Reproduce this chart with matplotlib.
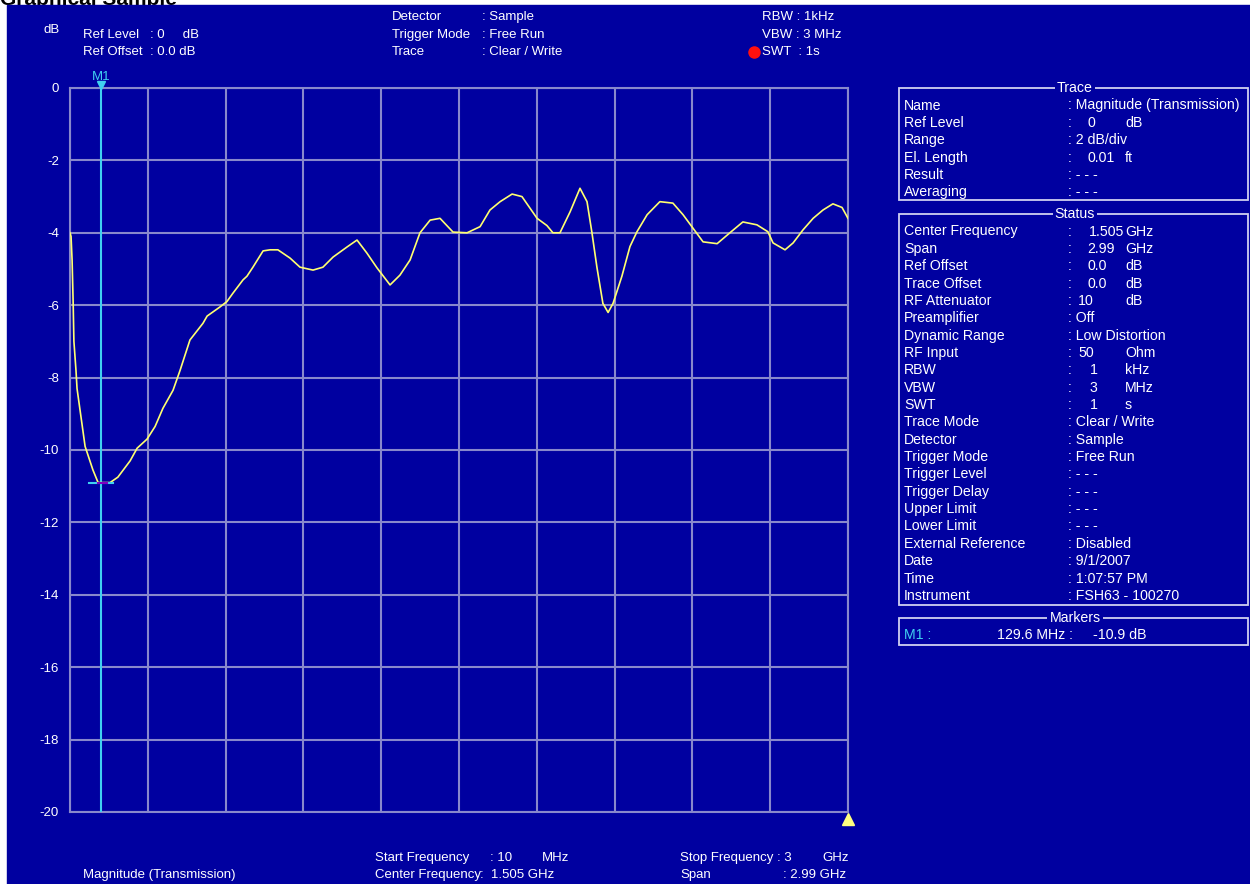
import matplotlib
matplotlib.use("Agg")
import matplotlib.pyplot as plt
from matplotlib.patches import Rectangle

# trace: frequency (MHz) and magnitude (dB)
freq_mhz = [10, 14, 18, 22, 25, 33, 37, 68, 98, 118, 141, 164, 194, 241, 268,
            306, 337, 367, 406, 433, 471, 521, 537, 586, 613, 636, 675, 690,
            713, 752, 779, 809, 856, 894, 944, 982, 1021, 1075, 1113, 1151,
            1190, 1240, 1278, 1317, 1355, 1394, 1432, 1482, 1536, 1586, 1624,
            1663, 1709, 1747, 1805, 1843, 1866, 1893, 1932, 1970, 1997, 2016,
            2035, 2058, 2078, 2097, 2131, 2162, 2189, 2228, 2277, 2327, 2366,
            2404, 2443, 2497, 2546, 2596, 2650, 2692, 2712, 2758, 2789, 2827,
            2866, 2904, 2942, 2977, 3000]
mag_db = [-4.0, -4.1, -4.75, -5.9, -7.0, -7.8, -8.3, -9.9, -10.55, -10.9,
          -10.9, -10.9, -10.75, -10.3, -9.95, -9.7, -9.35, -8.85, -8.35, -7.8,
          -6.96, -6.5, -6.3, -6.05, -5.9, -5.67, -5.3, -5.2, -4.95, -4.5,
          -4.47, -4.47, -4.7, -4.95, -5.03, -4.95, -4.67, -4.39, -4.2, -4.56,
          -4.97, -5.44, -5.17, -4.75, -4.0, -3.65, -3.6, -3.98, -4.0, -3.83,
          -3.37, -3.14, -2.93, -3.0, -3.6, -3.8, -4.0, -4.0, -3.42, -2.77,
          -3.14, -4.0, -4.95, -5.95, -6.2, -5.95, -5.2, -4.38, -3.97, -3.5,
          -3.14, -3.18, -3.5, -3.87, -4.25, -4.3, -4.0, -3.7, -3.78, -3.97,
          -4.28, -4.47, -4.28, -3.92, -3.6, -3.37, -3.2, -3.3, -3.6]

start_mhz, stop_mhz = 10, 3000
marker_mhz, marker_db = 129.6, -10.9
y_ticks = [0, -2, -4, -6, -8, -10, -12, -14, -16, -18, -20]

trace_rows = [("Name", ": Magnitude (Transmission)", "", None),
              ("Ref Level", ":", "0", "dB"),
              ("Range", ": 2 dB/div", "", None),
              ("El. Length", ":", "0.01", "ft"),
              ("Result", ": - - -", "", None),
              ("Averaging", ": - - -", "", None)]
status_rows = [("Center Frequency", ":", "1.505", "GHz"),
               ("Span", ":", "2.99", "GHz"),
               ("Ref Offset", ":", "0.0", "dB"),
               ("Trace Offset", ":", "0.0", "dB"),
               ("RF Attenuator", ":", "10", "dB"),
               ("Preamplifier", ": Off", "", None),
               ("Dynamic Range", ": Low Distortion", "", None),
               ("RF Input", ":", "50", "Ohm"),
               ("RBW", ":", "1", "kHz"),
               ("VBW", ":", "3", "MHz"),
               ("SWT", ":", "1", "s"),
               ("Trace Mode", ": Clear / Write", "", None),
               ("Detector", ": Sample", "", None),
               ("Trigger Mode", ": Free Run", "", None),
               ("Trigger Level", ": - - -", "", None),
               ("Trigger Delay", ": - - -", "", None),
               ("Upper Limit", ": - - -", "", None),
               ("Lower Limit", ": - - -", "", None),
               ("External Reference", ": Disabled", "", None),
               ("Date", ": 9/1/2007", "", None),
               ("Time", ": 1:07:57 PM", "", None),
               ("Instrument", ": FSH63 - 100270", "", None)]

# left edge (px) of the number column, as the instrument lays it out
num_x = {"0": 1088, "0.01": 1087, "1.505": 1089, "2.99": 1087, "0.0": 1087,
         "10": 1078, "50": 1078, "1": 1090, "3": 1090}

BLUE = "#0000a0"
GRID = "#8888cc"
WHITE = "white"
CYAN = "#40d0f0"
YELLOW = "#ffff70"
FS = 9.5
FS_PANEL = 10.2
plt.rcParams["font.family"] = ["Liberation Sans", "DejaVu Sans"]

fig = plt.figure(figsize=(12.5, 8.84), dpi=100, facecolor="white")

# full-figure overlay in pixel coordinates for the screen furniture
bg = fig.add_axes([0, 0, 1, 1])
bg.set_xlim(0, 1250)
bg.set_ylim(884, 0)
bg.axis("off")
bg.add_patch(Rectangle((7, 5), 1250, 884, color=BLUE, zorder=0))
# heading of the page above, mostly cut off by the screenshot
bg.text(0, 5, "Graphical Sample", fontsize=15, fontweight="bold",
        color="black", va="baseline", ha="left", zorder=-1, clip_on=False)


def t(x, y, s, color=WHITE, ha="left", size=FS, **kw):
    bg.text(x, y, s, color=color, fontsize=size, ha=ha, va="center", **kw)


# header
t(43, 30, "dB")
t(83, 35, "Ref Level")
t(150, 35, ": 0     dB")
t(83, 52, "Ref Offset")
t(150, 52, ": 0.0 dB")
for y, lab, val in [(17, "Detector", ": Sample"), (35, "Trigger Mode", ": Free Run"),
                    (52, "Trace", ": Clear / Write")]:
    t(392, y, lab)
    t(482, y, val)
t(762, 17, "RBW : 1kHz")
t(762, 35, "VBW : 3 MHz")
t(762, 52, "SWT  : 1s")
bg.plot([754], [52], "o", color="#ff1010", markersize=8)

# footer
t(83, 875, "Magnitude (Transmission)")
t(375, 858, "Start Frequency")
t(490, 858, ": 10")
t(542, 858, "MHz")
t(375, 875, "Center Frequency")
t(480, 875, ":  1.505 GHz")
t(680, 858, "Stop Frequency : 3")
t(822, 858, "GHz")
t(680, 875, "Span")
t(783, 875, ": 2.99 GHz")


# right hand panels
def box(top, bottom, title):
    bg.add_patch(Rectangle((899, top), 349, bottom - top, fill=False,
                           edgecolor="#d0d0f0", lw=1.3, zorder=2))
    bg.text(1075, top, title, color=WHITE, fontsize=FS_PANEL, ha="center",
            va="center", zorder=3,
            bbox=dict(facecolor=BLUE, edgecolor="none", pad=1.5))


def panel(top, bottom, title, rows):
    box(top, bottom, title)
    y = top + 17.5
    for lab, val, num, unit in rows:
        t(904, y, lab, size=FS_PANEL)
        t(1068, y, val, size=FS_PANEL)
        if num:
            t(num_x[num], y, num, size=FS_PANEL)
        if unit:
            t(1125, y, unit, size=FS_PANEL)
        y += 17.35


panel(88, 200, "Trace", trace_rows)
panel(214, 605, "Status", status_rows)
box(618, 645, "Markers")
t(904, 635, "M1 :", color=CYAN, size=FS_PANEL)
t(1073, 635, "%.1f MHz :" % marker_mhz, ha="right", size=FS_PANEL)
t(1093, 635, "%.1f dB" % marker_db, size=FS_PANEL)

# the measurement diagram
ax = fig.add_axes([70 / 1250, 1 - 812 / 884, 778 / 1250, 724 / 884])
ax.set_facecolor(BLUE)
ax.set_xlim(start_mhz, stop_mhz)
ax.set_ylim(-20, 0)
step = (stop_mhz - start_mhz) / 10
ax.set_xticks([start_mhz + i * step for i in range(11)])
ax.set_yticks(y_ticks)
ax.set_xticklabels([])
ax.set_yticklabels([str(v) for v in y_ticks], color=WHITE, fontsize=FS)
ax.tick_params(length=0, pad=8)
ax.grid(True, color=GRID, lw=1.5)
ax.set_axisbelow(True)
for s in ax.spines.values():
    s.set_color(GRID)
    s.set_linewidth(1.5)

ax.axvline(marker_mhz, color=CYAN, lw=1.5, zorder=3)
ax.plot(freq_mhz, mag_db, color=YELLOW, lw=1.2, zorder=4)
ax.plot([marker_mhz - 47, marker_mhz + 47], [marker_db, marker_db], color=CYAN,
        lw=1.5, zorder=5)
ax.plot([marker_mhz - 12, marker_mhz + 24], [marker_db, marker_db], color="#8000c0",
        lw=1.5, zorder=6)
ax.plot([marker_mhz], [0.08], "v", color=CYAN, markersize=6, clip_on=False, zorder=6)
ax.text(marker_mhz, 0.3, "M1", color=CYAN, fontsize=FS, ha="center",
        va="center", clip_on=False)
ax.plot([stop_mhz], [-20.2], "^", color="#ffff80", markersize=9, clip_on=False,
        zorder=6)

fig.savefig("out.png", dpi=100, facecolor="white")
